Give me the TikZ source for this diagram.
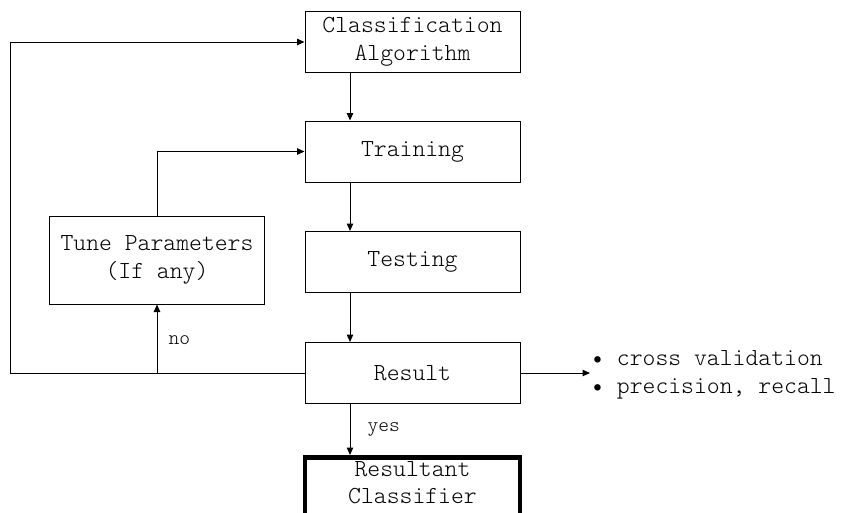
\documentclass[tikz,border=0pt]{standalone}
\usepackage{fontspec}
\usetikzlibrary{arrows.meta}
\newcommand{\boxfont}{\ttfamily\fontseries{l}\fontsize{24.5}{27.5}\selectfont}
\newcommand{\tagfont}{\ttfamily\fontseries{l}\fontsize{20.5}{24}\selectfont}
\begin{document}
\begin{tikzpicture}[x=1pt,y=-1pt,
  every node/.style={font=\boxfont},
  stepbox/.style={draw,line width=1pt,minimum width=215pt,minimum height=61pt,align=center,inner sep=0pt},
  flow/.style={line width=1pt,-{Triangle[length=7.5pt,width=6.5pt]}},
  tag/.style={font=\tagfont,inner sep=0pt,anchor=west}]
  \useasboundingbox (0,0) rectangle (843,512);
  \clip (0,0) rectangle (843,512);
  \fill[white] (0,0) rectangle (843,512);

  % main column
  \node[stepbox] (ca) at (412.5,42) {Classification\\Algorithm};
  \node[stepbox] (tr) at (412.5,151.5) {Training};
  \node[stepbox] (te) at (412.5,262) {Testing};
  \node[stepbox] (re) at (412.5,373) {Result};
  \node[stepbox,line width=4.5pt,anchor=north,inner ysep=4pt,text depth=40pt] (rc) at (412.5,455) {Resultant\\Classifier};

  % side box
  \node[stepbox,minimum height=88pt] (tp) at (157,260) {Tune Parameters\\(If any)};

  % metrics list
  \node[anchor=west,align=left,inner sep=0pt] (ml) at (591,375) {\textbullet{} cross validation\\\textbullet{} precision, recall};

  % connector anchors along the left of the main column
  \coordinate (cx) at (350,0);
  \coordinate (cl) at (10,373);
  \coordinate (nj) at (tp.south |- re.west);
  \coordinate (mt) at (590,373);

  % connectors
  \draw[flow] (cx |- ca.south) -- (cx |- tr.north);
  \draw[flow] (cx |- tr.south) -- (cx |- te.north);
  \draw[flow] (cx |- te.south) -- (cx |- re.north);
  \draw[flow] (cx |- re.south) -- node[tag,xshift=17pt] {yes} (cx |- rc.north);
  \draw[flow] (re.west) -- (cl) |- (ca.west);
  \draw[flow] (nj) -- node[tag,xshift=11pt,yshift=-1pt] {no} (tp.south);
  \draw[flow] (tp.north) |- (tr.west);
  \draw[flow] (re.east) -- (mt);
\end{tikzpicture}
\end{document}
